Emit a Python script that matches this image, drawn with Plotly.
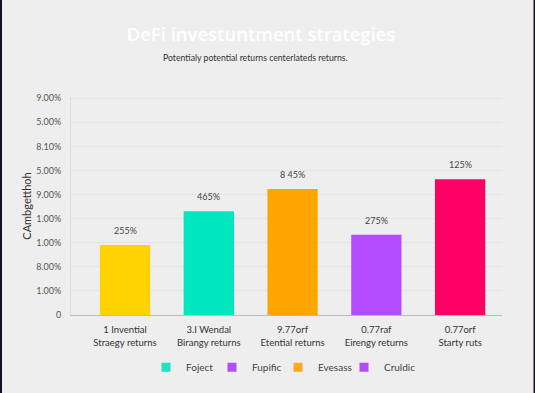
import plotly.graph_objects as go

categories = ["1 Invential<br>Straegy returns", "3.I Wendal<br>Birangy returns",
              "9.77orf<br>Etential returns", "0.77raf<br>Eirengy returns",
              "0.77orf<br>Starty ruts"]
values = [2.91, 4.31, 5.23, 3.33, 5.64]
bar_labels = ["255%", "465%", "8 45%", "275%", "125%"]
bar_colors = ["#FFD300", "#00E6BE", "#FFA500", "#B44CFF", "#FF0066"]
tick_vals = [0, 1, 2, 3, 4, 5, 6, 7, 8, 9]
tick_text = ["0", "1.00%", "8.00%", "1.00%", "1.00%", "9.00%", "5.00%", "8.10%", "5.00%", "9.00%"]
legend_names = ["Foject", "Fupific", "Evesass", "Cruldic"]
legend_colors = ["#1DE3C0", "#B44CF5", "#FFA81A", "#B44CF5"]

fig = go.Figure()
fig.add_trace(go.Bar(
    x=categories, y=values,
    marker=dict(color=bar_colors, line=dict(width=0)),
    width=0.6, showlegend=False, hoverinfo="skip",
))
for cat, val, lab in zip(categories, values, bar_labels):
    fig.add_annotation(x=cat, y=val, text=lab, showarrow=False, yanchor="bottom",
                       yshift=7, font=dict(size=9, color="#444"))
fig.add_annotation(text="Potentialy potential returns centerlateds returns.",
                   xref="paper", yref="paper", x=0.427, y=1.183,
                   xanchor="center", yanchor="middle", showarrow=False,
                   font=dict(size=8.7, color="#333"))
for name, col in zip(legend_names, legend_colors):
    fig.add_trace(go.Scatter(
        x=[None], y=[None], mode="markers", name=name,
        marker=dict(symbol="square", size=9, color=col),
    ))
# spacer entry so the last legend label is not clipped
fig.add_trace(go.Scatter(x=[None], y=[None], mode="markers", name=" ",
                         marker=dict(symbol="square", size=1, color="rgba(0,0,0,0)")))

fig.update_layout(
    width=535, height=393,
    paper_bgcolor="#EEEEEE", plot_bgcolor="#EEEEEE",
    margin=dict(l=71, r=33, t=97, b=78, autoexpand=False),
    font=dict(family="Lato, Open Sans, sans-serif", color="#333"),
    title=dict(text="DeFi investuntment strategies", x=0.488, xanchor="center",
               y=0.913, yanchor="middle",
               font=dict(size=18.5, color="#FFFFFF", family="Open Sans, sans-serif", weight=600)),
    showlegend=True,
    legend=dict(orientation="h", x=0.174, xanchor="left", y=-0.24, yanchor="middle",
                font=dict(size=10, color="#444"), bgcolor="rgba(0,0,0,0)",
                itemwidth=30, entrywidth=21, entrywidthmode="pixels"),
    hovermode=False,
)
fig.update_xaxes(type="category", range=[-0.645, 4.5], showline=True, linecolor="#BBBBBB",
                 linewidth=1, tickfont=dict(size=9.5, color="#333"), ticks="",
                 showgrid=False, fixedrange=True, automargin=False, ticklabelstandoff=6)
fig.update_yaxes(range=[0, 9.05], tickvals=tick_vals, ticktext=tick_text,
                 tickfont=dict(size=9, color="#555"), showgrid=True,
                 gridcolor="#E4E4E4", gridwidth=1, zeroline=False,
                 showline=True, linecolor="#DDDDDD", ticks="", automargin=False,
                 ticklabelstandoff=7, fixedrange=True,
                 title=dict(text="CAmbgetthoh", font=dict(size=11, color="#333"), standoff=2))

fig.add_shape(type="line", xref="paper", yref="paper", x0=-0.1647, x1=-0.1647, y0=-0.5, y1=1.5,
              line=dict(color="#1A1025", width=4))
fig.add_shape(type="line", xref="paper", yref="paper", x0=1.0766, x1=1.0766, y0=-0.5, y1=1.5,
              line=dict(color="#1A1025", width=3))

fig.write_html("out.html", config={"displayModeBar": False},
               post_script="document.body.style.margin='0px';")
